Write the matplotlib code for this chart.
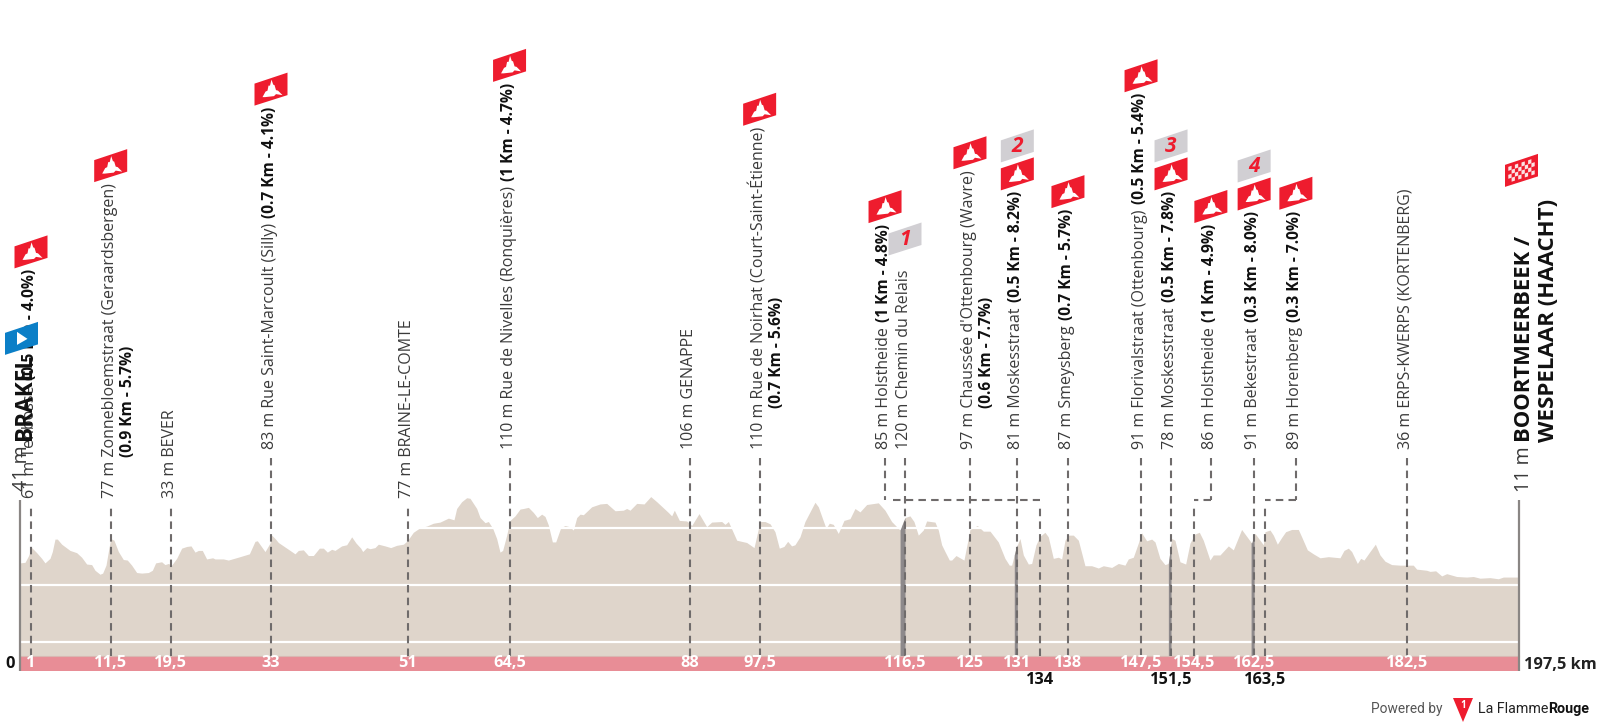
import numpy as np
import matplotlib
matplotlib.use("Agg")
import matplotlib.pyplot as plt
from matplotlib.patches import Polygon
from matplotlib.transforms import Affine2D

plt.rcParams['font.family'] = ['Open Sans', 'DejaVu Sans']

# ---------- DATA ----------
profile_km = [0,0.66,1.10,1.54,2.20,2.85,3.29,3.95,4.26,4.61,4.92,5.49,6.59,7.47,8.12,8.78,9.44,9.88,10.54,10.89,11.33,11.64,11.95,12.38,12.96,13.61,14.14,14.71,15.37,16.03,16.91,17.44,17.87,18.66,19.10,19.54,19.98,20.64,21.30,21.96,22.53,23.06,23.50,24.02,24.59,25.38,25.69,26.79,27.45,28.99,30.22,30.96,31.27,32.28,32.94,
33.16,33.60,34.04,34.70,35.58,36.23,36.67,37.33,37.99,38.65,39.44,39.97,40.49,41.06,41.50,42.38,43.04,43.70,44.27,44.89,45.15,45.68,46.12,46.77,47.21,48.09,48.84,49.63,50.51,51.03,51.82,52.70,53.58,54.46,55.34,56.44,57.18,57.53,58.19,58.85,59.29,60.17,60.61,61.27,61.71,62.28,62.80,63.24,63.59,64.12,64.56,65.22,65.88,
66.32,66.98,67.64,68.16,68.73,69.17,69.61,70.14,70.58,71.24,71.81,72.38,72.91,73.35,73.79,74.22,75.32,76.42,77.30,78.40,79.49,79.93,80.37,81.25,82.22,83.10,83.89,85.42,85.86,86.21,86.87,87.84,88.50,89.46,90.47,91.13,92.45,92.89,93.33,94.43,95.74,96.71,97.50,98.16,98.82,
99.47,100.04,100.65,101.14,101.66,102.10,102.76,103.42,104.08,104.74,105.18,106.19,106.63,107.15,107.81,108.56,109.35,110.01,110.67,111.55,113.08,113.96,114.84,115.94,116.60,117.25,117.78,118.35,119.01,119.45,120.55,120.99,121.43,121.87,122.44,122.75,123.32,123.84,124.37,124.81,125.16,126.13,126.92,127.80,128.89,129.77,130.34,130.65,131.22,131.75,
132.19,132.85,133.29,133.86,134.39,135.04,135.48,136.14,136.80,137.24,137.68,138.12,138.78,139.44,140.31,141.19,142.07,142.73,143.83,144.71,145.58,146.02,146.68,147.34,147.78,148.44,149.10,149.54,150.19,150.85,151.29,151.73,152.17,152.83,153.58,154.15,154.81,155.38,155.90,156.78,157.22,158.10,159.20,159.86,160.95,162.27,162.71,163.81,164.03,164.69,
165.13,165.66,166.23,166.75,167.54,168.42,168.86,169.61,170.40,171.28,172.38,173.91,174.44,175.01,175.45,176.20,176.64,177.07,177.86,178.57,179.18,179.84,180.72,181.82,183.57,184.01,185.33,185.77,186.52,187.31,187.97,189.28,190.60,191.48,192.36,193.67,194.77,195.43,197.5]
profile_m = [39,40,51,66,57,47,39,47,59,81,81,72,61,57,49,37,36,26,19,21,35,59,82,79,59,45,44,35,22,21,22,26,39,41,36,38,35,47,65,68,69,58,61,61,46,48,46,46,44,50,55,77,78,59,74,
88,82,75,69,61,55,61,62,52,52,65,65,58,63,61,69,71,85,74,65,59,66,64,66,72,69,66,70,72,78,93,101,104,109,111,118,115,135,147,154,153,135,119,110,112,100,82,58,61,88,114,122,134,
135,137,128,119,125,121,106,76,76,101,105,103,97,119,125,124,138,143,144,131,132,135,132,144,143,156,147,128,122,132,114,113,105,126,103,111,112,107,112,79,75,66,112,112,108,
94,65,68,77,69,71,85,112,129,146,138,100,109,107,91,114,117,135,129,142,145,132,112,97,119,122,112,88,97,113,111,97,71,59,44,44,52,48,44,74,98,105,95,95,76,47,35,35,65,82,
53,37,38,71,86,93,85,47,49,46,79,88,88,79,34,34,30,34,31,38,35,46,49,74,92,78,81,76,47,36,38,82,79,41,37,74,90,93,79,44,53,53,69,62,98,74,91,71,94,97,
88,72,84,94,98,98,85,62,55,48,50,48,61,65,59,38,47,44,59,72,53,42,36,35,35,28,26,24,25,16,20,15,14,15,12,13,11,14,14]

gridlines_m = [-100, 0, 100]

# km of each waypoint along the band, its band caption, and the km its label sits over
way_km    = [1.45, 11.95, 19.85, 33.07, 51.08, 64.5, 88.27, 97.45, 134.4, 116.6, 125.16, 131.4, 138.07, 147.7, 151.65, 154.7, 162.6, 164.03, 182.7]
label_km  = [1.45, 11.95, 19.85, 33.07, 51.08, 64.5, 88.27, 97.45, 113.97, 116.6, 125.16, 131.4, 138.07, 147.7, 151.65, 156.9, 162.6, 168.1, 182.7]
way_tick  = ['1','11,5','19,5','33','51','64,5','88','97,5','134','116,5','125','131','138','147,5','151,5','154,5','162,5','163,5','182,5']
tick_below = [False]*8 + [True] + [False]*5 + [True] + [False]*2 + [True] + [False]
names = ['61 m Tenbosse','77 m Zonnebloemstraat (Geraardsbergen)','33 m BEVER',
         '83 m Rue Saint-Marcoult (Silly)','77 m BRAINE-LE-COMTE','110 m Rue de Nivelles (Ronquières)',
         '106 m GENAPPE','110 m Rue de Noirhat (Court-Saint-Étienne)','85 m Holstheide','120 m Chemin du Relais',
         "97 m Chaussée d'Ottenbourg (Wavre)",'81 m Moskesstraat','87 m Smeysberg','91 m Florivalstraat (Ottenbourg)',
         '78 m Moskesstraat','86 m Holstheide','91 m Bekestraat','89 m Horenberg','36 m ERPS-KWERPS (KORTENBERG)']
climbs = ['(0.5 Km - 4.0%)','(0.9 Km - 5.7%)','','(0.7 Km - 4.1%)','','(1 Km - 4.7%)','','(0.7 Km - 5.6%)',
          '(1 Km - 4.8%)','','(0.6 Km - 7.7%)','(0.5 Km - 8.2%)','(0.7 Km - 5.7%)','(0.5 Km - 5.4%)',
          '(0.5 Km - 7.8%)','(1 Km - 4.9%)','(0.3 Km - 8.0%)','(0.3 Km - 7.0%)','']
climb_wrapped = [False,True,False,False,False,False,False,True,False,False,True,False,False,False,False,False,False,False,False]
low_label = [True,True,True,False,True]+[False]*14
has_flag  = [True,True,False,True,False,True,False,True,True,False,True,True,True,True,True,True,True,True,False]
sector_no = ['','','','','','','','','','1','','2','','','3','','4','','']

sector_start = [115.95, 131.0, 151.3, 162.2]
sector_end   = [116.6, 131.4, 151.65, 162.6]

km_total = 197.5
start_alt, start_name = '41 m', 'BRAKEL'
finish_alt, finish_l1, finish_l2 = '11 m', 'BOORTMEERBEEK /', 'WESPELAAR (HAACHT)'

# ---------- LAYOUT ----------
W, H = 1600, 725
X0, PXKM = 20, 7.59
Y0, PXM = 585, 0.5667
BAND_TOP, BAND_BOT, AXIS_TOP = 656, 671, 500
ELBOW_Y = 499.5
LOW_BASE, HIGH_BASE = 498, 449
FS, FSB, FSBIG, FSALT, FSTICK = 11.55, 11.2, 15.8, 14.2, 11.8

RED, GREYF, BLUE = '#ee1c2e', '#d1cfd3', '#0b7fc7'
DASH = '#6f6b6b'

fig = plt.figure(figsize=(W/100, H/100), dpi=100, facecolor='white')
ax = fig.add_axes([0, 0, 1, 1])
ax.set_xlim((0-X0)/PXKM, (W-X0)/PXKM)
ax.set_ylim((Y0-H)/PXM, Y0/PXM)
ax.axis('off')
T = Affine2D().scale(1, -1).translate(0, H)   # reference pixel space
base_m = (Y0-BAND_TOP)/PXM
band_m = (Y0-BAND_BOT)/PXM
axis_m = (Y0-AXIS_TOP)/PXM
km = np.array(profile_km); m = np.array(profile_m)

ax.fill_between(km, base_m, m, color='#dfd5cb', lw=0, zorder=1)
for g in gridlines_m:
    ax.plot([0, km_total], [g, g], color='white', lw=1.6, zorder=2, solid_capstyle='butt')
for a, b in zip(sector_start, sector_end):
    xs = np.array([a, *km[(km > a) & (km < b)], b])
    ax.fill_between(xs, base_m, np.interp(xs, km, m), color='#8d898b', lw=0, zorder=3)
ax.fill_between([0, km_total], band_m, base_m, color='#e88d96', lw=0, zorder=3)
ax.plot([0, km_total], [base_m, base_m], color='#d9b7b2', lw=0.8, zorder=3)
for x in (0, km_total):
    ax.plot([x, x], [band_m, axis_m], color='#8a8684', lw=1.6, zorder=4, solid_capstyle='butt')

dash_kw = dict(color=DASH, lw=1.5, dashes=(3.6, 2.5), zorder=5)

fig.canvas.draw()
R = fig.canvas.get_renderer()

def top_px(t):
    return H - t.get_window_extent(R).y1

def flag_pts(cx, bottom):
    return [(cx-16.5, bottom), (cx-16.5, bottom-22), (cx+16.5, bottom-33), (cx+16.5, bottom-10.5)]

def flag_poly(cx, bottom, color):
    ax.add_patch(Polygon(flag_pts(cx, bottom), closed=True, fc=color, ec='none', transform=T, zorder=7))

def mountain(cx, bottom):
    pts = [(-8.5,-8.5),(-5.5,-14),(-3.5,-15),(-2.5,-20),(-1,-20),(0.5,-26),(2.2,-21),(3.5,-20.5),(5,-15.5),(7,-15),(11.5,-10.5),
           (5,-11.5),(3,-9.5),(-6,-8.5)]
    ax.add_patch(Polygon([(cx+a, bottom+b) for a, b in pts], closed=True, fc='white', ec='none', transform=T, zorder=8))

for i in range(len(way_km)):
    lx = X0 + label_km[i]*PXKM
    wx = X0 + way_km[i]*PXKM
    base = LOW_BASE if low_label[i] else HIGH_BASE
    top = base + 9
    wm = way_km[i]
    if label_km[i] == way_km[i]:
        ax.plot([wm, wm], [base_m, (Y0-top)/PXM], **dash_kw)
    else:
        ax.plot([wm, wm], [base_m, (Y0-ELBOW_Y-8)/PXM], **dash_kw)
        ax.plot([label_km[i], label_km[i]], [(Y0-top)/PXM, (Y0-ELBOW_Y)/PXM], **dash_kw)
        end = label_km[i] + (1.1 if label_km[i] < wm else 0)
        ax.plot([end, wm], [(Y0-ELBOW_Y)/PXM, (Y0-ELBOW_Y)/PXM], **dash_kw)
    # caption in the band or beneath it
    if tick_below[i]:
        ax.text(wx, 680.5, way_tick[i], transform=T, ha='center', va='center', fontsize=FSTICK, fontweight='bold', color='#111111', zorder=9)
    else:
        ax.text(wx, 663, way_tick[i], transform=T, ha='center', va='center', fontsize=FSTICK, fontweight='bold', color='white', zorder=9)
    # label
    t = ax.text(lx-1, base, names[i], transform=T, rotation=90, ha='center', va='bottom', fontsize=FS, color='#3a3a3a', zorder=6)
    t_top = top_px(t)
    if climbs[i]:
        if climb_wrapped[i]:
            ax.text(lx+17.5, base-41, climbs[i], transform=T, rotation=90, ha='center', va='bottom', fontsize=FSB, fontweight='bold', color='#111111', zorder=6)
        else:
            t2 = ax.text(lx-1, t_top-5, climbs[i], transform=T, rotation=90, ha='center', va='bottom', fontsize=FSB, fontweight='bold', color='#111111', zorder=6)
            t_top = top_px(t2)
    fb = t_top - 1
    if has_flag[i]:
        flag_poly(lx, fb, RED)
        mountain(lx, fb)
        fb = fb - 28
    elif sector_no[i]:
        fb = fb - 13
    if sector_no[i]:
        flag_poly(lx, fb, GREYF)
        ax.text(lx, fb-16, sector_no[i], transform=T, ha='center', va='center', fontsize=15, fontweight='bold', style='italic',
                color=RED, zorder=8)

# start
a = ax.text(22, 491, start_alt, transform=T, rotation=90, ha='center', va='bottom', fontsize=FSALT, color='#3a3a3a', zorder=6)
b = ax.text(25, 440, start_name, transform=T, rotation=90, ha='center', va='bottom', fontsize=FSBIG+0.5, fontweight='bold', color='#111111', zorder=6)
st = top_px(b) + 1
sx = 21.5
ax.add_patch(Polygon(flag_pts(sx, st), closed=True, fc=BLUE, ec='none', transform=T, zorder=7))
ax.add_patch(Polygon([(sx-4.5, st-23), (sx+6, st-16), (sx-4.5, st-10)], closed=True, fc='white', ec='none', transform=T, zorder=8))

# finish
a = ax.text(1524, 492, finish_alt, transform=T, rotation=90, ha='center', va='bottom', fontsize=FSALT, color='#3a3a3a', zorder=6)
b = ax.text(1524, 442, finish_l1, transform=T, rotation=90, ha='center', va='bottom', fontsize=FSBIG, fontweight='bold', color='#111111', zorder=6)
c = ax.text(1548, 442, finish_l2, transform=T, rotation=90, ha='center', va='bottom', fontsize=FSBIG+0.25, fontweight='bold', color='#111111', zorder=6)
fbot = min(top_px(b), top_px(c)) - 12
cx = 1521.5
flag_poly(cx, fbot, RED)
ncol, nrow = 8, 4
def flag_at(u, v):
    x = cx-16.5 + 33*u
    yt = fbot-22 - 11*u
    yb = fbot - 10.5*u
    return (x, yt + (yb-yt)*v)
for ci in range(ncol):
    for ri in range(nrow):
        if (ci+ri) % 2 == 0:
            u0 = 0.1 + 0.8*ci/ncol; u1 = 0.1 + 0.8*(ci+1)/ncol
            v0 = 0.14 + 0.72*ri/nrow; v1 = 0.14 + 0.72*(ri+1)/nrow
            ax.add_patch(Polygon([flag_at(u0, v0), flag_at(u1, v0), flag_at(u1, v1), flag_at(u0, v1)],
                                 closed=True, fc='#fbe3e5', ec='none', transform=T, zorder=8))

# axis end captions
ax.text(10, 664, '0', transform=T, ha='center', va='center', fontsize=FSTICK, fontweight='bold', color='#111111', zorder=9)
ax.text(1524, 665, f'{km_total:.1f}'.replace('.', ',') + ' km', transform=T, ha='left', va='center', fontsize=FSTICK, fontweight='bold', color='#222222', zorder=9)

# brand line
ax.text(1371, 709, 'Powered by', transform=T, ha='left', va='center', fontsize=9.9, family='Roboto', color='#555555', zorder=9)
ax.add_patch(Polygon([(1453, 698), (1473, 698), (1463, 722)], closed=True, fc=RED, ec='none', transform=T, zorder=9))
ax.text(1463, 705, '1', transform=T, ha='center', va='center', fontsize=7, fontweight='bold', color='white', zorder=10)
l = ax.text(1478, 709, 'La Flamme', transform=T, ha='left', va='center', fontsize=10.3, family='Roboto', color='#222222', zorder=9)
ax.text(l.get_window_extent(R).x1, 709, 'Rouge', transform=T, ha='left', va='center', fontsize=10.3, family='Roboto', fontweight='bold', color='#111111', zorder=9)

fig.savefig('out.png', dpi=100, facecolor='white')
